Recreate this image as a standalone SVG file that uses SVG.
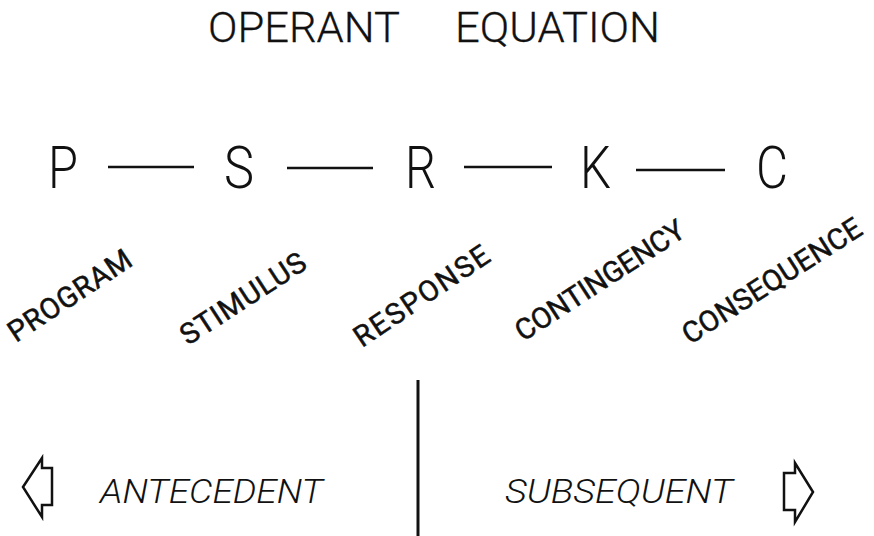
<svg xmlns="http://www.w3.org/2000/svg" width="874" height="536" viewBox="0 0 874 536">
<style>
.title{font-family:Roboto,"Liberation Sans",sans-serif;font-weight:300;font-size:42px;fill:#111;stroke:#111;stroke-width:0.3}
.big{font-family:Roboto,"Liberation Sans",sans-serif;font-weight:300;font-size:60px;fill:#111}
.lbl{font-family:Roboto,"Liberation Sans",Arial,sans-serif;font-weight:400;font-size:29px;fill:#111;stroke:#111;stroke-width:0.5}
.it{font-family:Roboto,"Liberation Sans",sans-serif;font-weight:300;font-style:italic;font-size:34px;fill:#111}
.ln{stroke:#111;stroke-width:2.5;fill:none}
.arr{stroke:#111;stroke-width:2.5;fill:#fff;stroke-linejoin:miter}
</style>
<rect width="874" height="536" fill="#fff"/>
<g id="title">
<text class="title" x="208" y="42" textLength="192" lengthAdjust="spacingAndGlyphs">OPERANT</text>
<text class="title" x="455" y="42" textLength="205" lengthAdjust="spacingAndGlyphs">EQUATION</text>
</g>
<g id="node-P"><text class="big" x="48" y="188" textLength="30" lengthAdjust="spacingAndGlyphs">P</text></g>
<g id="node-S"><text class="big" x="224" y="188" textLength="30" lengthAdjust="spacingAndGlyphs">S</text></g>
<g id="node-R"><text class="big" x="405" y="188" textLength="31" lengthAdjust="spacingAndGlyphs">R</text></g>
<g id="node-K"><text class="big" x="580" y="188" textLength="31" lengthAdjust="spacingAndGlyphs">K</text></g>
<g id="node-C"><text class="big" x="756" y="188" textLength="32" lengthAdjust="spacingAndGlyphs">C</text></g>
<g id="connectors">
<line class="ln" x1="108" y1="167" x2="194" y2="167"/>
<line class="ln" x1="287" y1="168" x2="373" y2="168"/>
<line class="ln" x1="464" y1="167" x2="552" y2="167"/>
<line class="ln" x1="636" y1="170" x2="725" y2="170"/>
</g>
<g id="labels">
<text class="lbl" transform="translate(16,343) rotate(-33.5)" textLength="142" lengthAdjust="spacing">PROGRAM</text>
<text class="lbl" transform="translate(188,346) rotate(-33)" textLength="144" lengthAdjust="spacing">STIMULUS</text>
<text class="lbl" transform="translate(362,348) rotate(-34)" textLength="157" lengthAdjust="spacing">RESPONSE</text>
<text class="lbl" transform="translate(523,342) rotate(-33)" textLength="196" lengthAdjust="spacing">CONTINGENCY</text>
<text class="lbl" transform="translate(690,345) rotate(-32.6)" textLength="207" lengthAdjust="spacing">CONSEQUENCE</text>
</g>
<g id="divider"><line x1="418" y1="380" x2="418" y2="536" stroke="#111" stroke-width="3"/></g>
<g id="antecedent">
<polygon class="arr" points="23,487 42,458 42,468 52,468 52,505 42,505 42,517"/>
<text class="it" x="100" y="503" textLength="223" lengthAdjust="spacingAndGlyphs">ANTECEDENT</text>
</g>
<g id="subsequent">
<text class="it" x="505" y="503" textLength="228" lengthAdjust="spacingAndGlyphs">SUBSEQUENT</text>
<polygon class="arr" points="813,492 795,463 795,473 784,473 784,510 795,510 795,522"/>
</g>
</svg>
